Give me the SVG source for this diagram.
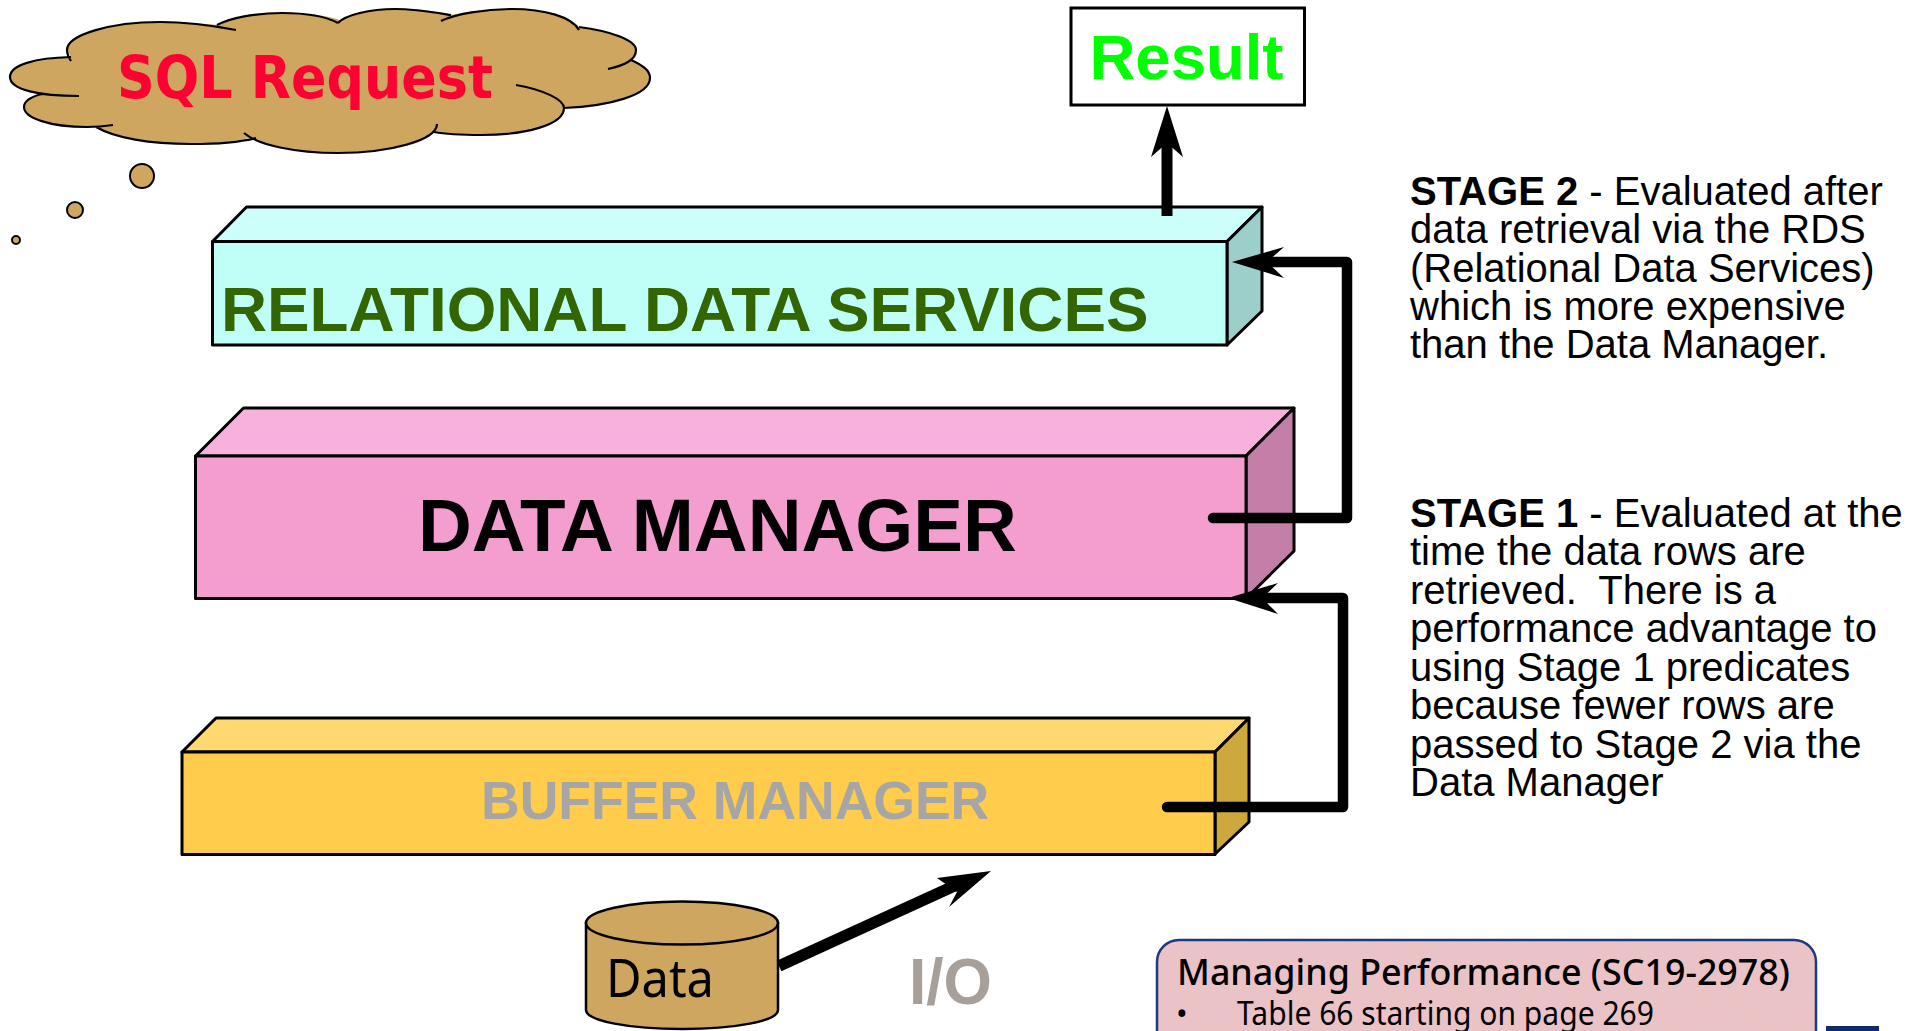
<svg xmlns="http://www.w3.org/2000/svg" width="1918" height="1031" viewBox="0 0 1918 1031">
<style>
.edge{fill:none;stroke:#000;stroke-width:3;stroke-linejoin:round}
.conn{fill:none;stroke:#000;stroke-width:10.500;stroke-linejoin:round;stroke-linecap:round}
.head{fill:#000;stroke:none}
.tan{fill:#cfa660}
.sans{font-family:"Liberation Sans",Arial,sans-serif}
.hum{font-family:"Noto Sans","Open Sans",sans-serif}
.note{font-family:"Liberation Sans",Arial,sans-serif;font-size:40px;fill:#000}
</style>
<defs>
<filter id="mottle" x="0" y="0" width="100%" height="100%">
<feTurbulence type="fractalNoise" baseFrequency="0.035 0.05" numOctaves="3" seed="7" result="n"/>
<feColorMatrix in="n" type="matrix" values="0 0 0 0 0.80  0 0 0 0 0.55  0 0 0 0 0.58  0.9 0 0 0 -0.3" result="c"/>
<feComposite in="c" in2="SourceAlpha" operator="in" result="t"/>
<feMerge><feMergeNode in="SourceGraphic"/><feMergeNode in="t"/></feMerge>
</filter>
</defs>
<rect width="1918" height="1031" fill="#fff"/>
<g id="cloud">
<path class="tan" d="M71 57C30 60 10 68 10 77C10 85 22 92 42 94C28 97 24 102 24 107C26 120 60 128 96 127C120 138 160 144 191 144C215 144 240 141 252 137C275 148 305 153 338 153C385 153 425 145 434 132C450 135 465 135 481 135C525 135 560 125 564 108C615 104 650 92 650 78C650 70 642 65 631 60C636 56 636 53 636 50C636 40 610 31 579 27C570 17 545 9 512 9C485 9 462 13 451 15C435 10 415 9 395 9C370 9 350 14 340 20C325 15 305 13 282 13C255 13 230 18 217 25C200 23 180 22 160 22C110 22 67 35 67 50Z"/>
<path class="edge" style="stroke-width:2.2" d="M71 61C69 58 67 55 67 50C67 35 110 22 160 22C190 22 215 26 236 30M217 25C230 18 255 13 282 13C305 13 325 16 338 23M338 23C345 15 370 9 395 9C415 9 438 13 451 15M441 21C455 14 485 9 512 9C545 9 572 17 579 30M579 27C610 31 636 40 636 50C636 60 625 65 608 69M631 60C642 65 650 70 650 78C650 95 610 106 564 108M516 85C545 90 564 100 564 108C564 125 525 135 481 135C465 135 450 135 434 132M437 124C437 140 390 153 338 153C295 153 258 145 244 133M256 138C240 142 215 144 191 144C150 144 115 138 96 127M113 125C100 127 95 127 87 127C50 127 24 118 24 107C24 102 30 97 42 94M79 96C40 96 10 90 10 77C10 65 35 58 71 57"/>
<text x="117" y="98" font-family="'DejaVu Sans',sans-serif" font-size="59" font-weight="700" fill="#ff0033" textLength="376" lengthAdjust="spacingAndGlyphs">SQL Request</text>
</g>
<g id="bubbles">
<circle class="tan" cx="142" cy="176" r="12" stroke="#000" stroke-width="2"/>
<circle class="tan" cx="75" cy="210" r="8" stroke="#000" stroke-width="2"/>
<circle class="tan" cx="16" cy="240" r="4" stroke="#000" stroke-width="2"/>
</g>
<g id="result">
<rect x="1071" y="8" width="233.500" height="97" fill="#fff" stroke="#000" stroke-width="3"/>
<text class="sans" x="1186.500" y="79" font-size="63.500" font-weight="700" fill="#00ff00" text-anchor="middle">Result</text>
</g>
<g id="rds">
<path class="edge" style="fill:#ccfffa" d="M212.500 241.500L246.500 207H1262L1227 241.500Z"/>
<path class="edge" style="fill:#9ccfc9" d="M1227 241.500L1262 207V311L1227 345Z"/>
<rect class="edge" style="fill:#bffff8" x="212.500" y="241.500" width="1014.500" height="103.500"/>
<text class="sans" x="221" y="331" font-size="63.800" font-weight="700" fill="#336600">RELATIONAL DATA SERVICES</text>
</g>
<g id="data-manager">
<path class="edge" style="fill:#f6b2dc" d="M195.500 456L243.500 408H1294L1246 456Z"/>
<path class="edge" style="fill:#c47fa9" d="M1246 456L1294 408V551L1246 598.500Z"/>
<rect class="edge" style="fill:#f49ed0" x="195.500" y="456" width="1050.500" height="142.500"/>
<text class="sans" x="418" y="551" font-size="74.500" font-weight="700" fill="#000">DATA MANAGER</text>
</g>
<g id="buffer-manager">
<path class="edge" style="fill:#ffd86f" d="M182 752L216 718H1249L1215 752Z"/>
<path class="edge" style="fill:#cca83d" d="M1215 752L1249 718V822L1215 854Z"/>
<rect class="edge" style="fill:#ffcc4c" x="182" y="752" width="1033" height="102.500"/>
<text class="sans" x="481" y="819" font-size="53.500" font-weight="700" fill="#a6a6a6">BUFFER MANAGER</text>
</g>
<g id="data">
<path class="tan" stroke="#000" stroke-width="2.500" d="M586 922V1010C586 1021 630 1029 682 1029C735 1029 778 1021 778 1010V922"/>
<ellipse class="tan" cx="682" cy="923" rx="96" ry="21.500" stroke="#000" stroke-width="2.500"/>
<text class="hum" x="606" y="997" font-size="53" fill="#000" textLength="108" lengthAdjust="spacingAndGlyphs">Data</text>
</g>
<text id="io" class="sans" x="909" y="1004" font-size="64" font-weight="700" fill="#a89f99" textLength="83" lengthAdjust="spacingAndGlyphs">I/O</text>
<g id="connectors">
<path class="conn" style="stroke-linecap:butt;stroke-width:11" d="M1167 216V140"/>
<path class="head" d="M1167 106L1183 157L1167 143L1151 157Z"/>
<path class="conn" d="M1213 518H1347V262H1270"/>
<path class="head" d="M1232 262L1284 247L1267 262L1284 278Z"/>
<path class="conn" d="M1167 807H1343V598H1265"/>
<path class="head" d="M1228 598L1278 583L1262 598L1278 614Z"/>
<path class="conn" style="stroke-linecap:butt;stroke-width:11.500" d="M779 966L965 881"/>
<path class="head" d="M991 871L937 878L957 892L949 907Z"/>
</g>
<g id="stage-2" class="note">
<text x="1410" y="205"><tspan font-weight="700">STAGE 2</tspan> - Evaluated after</text>
<text x="1410" y="243">data retrieval via the RDS</text>
<text x="1410" y="281.500">(Relational Data Services)</text>
<text x="1410" y="320">which is more expensive</text>
<text x="1410" y="358">than the Data Manager.</text>
</g>
<g id="stage-1" class="note">
<text x="1410" y="526.500"><tspan font-weight="700">STAGE 1</tspan> - Evaluated at the</text>
<text x="1410" y="565">time the data rows are</text>
<text x="1410" y="603.500" xml:space="preserve">retrieved.  There is a</text>
<text x="1410" y="642">performance advantage to</text>
<text x="1410" y="680.500">using Stage 1 predicates</text>
<text x="1410" y="719">because fewer rows are</text>
<text x="1410" y="757.500">passed to Stage 2 via the</text>
<text x="1410" y="796">Data Manager</text>
</g>
<g id="note">
<rect x="1157" y="940" width="659" height="130" rx="22" fill="#ebc3c6" filter="url(#mottle)"/>
<rect x="1157" y="940" width="659" height="130" rx="22" fill="none" stroke="#1f3a7a" stroke-width="2.500"/>
<text class="hum" x="1177" y="985" font-size="37" font-weight="500" fill="#000" textLength="613" lengthAdjust="spacingAndGlyphs">Managing Performance (SC19-2978)</text>
<text class="hum" x="1176" y="1025" font-size="31" fill="#000">•</text>
<text class="hum" x="1237" y="1025" font-size="32" fill="#000" textLength="417" lengthAdjust="spacingAndGlyphs">Table 66 starting on page 269</text>
</g>
<rect id="footer-mark" x="1826" y="1026" width="53" height="5" fill="#0f2a68"/>
</svg>
